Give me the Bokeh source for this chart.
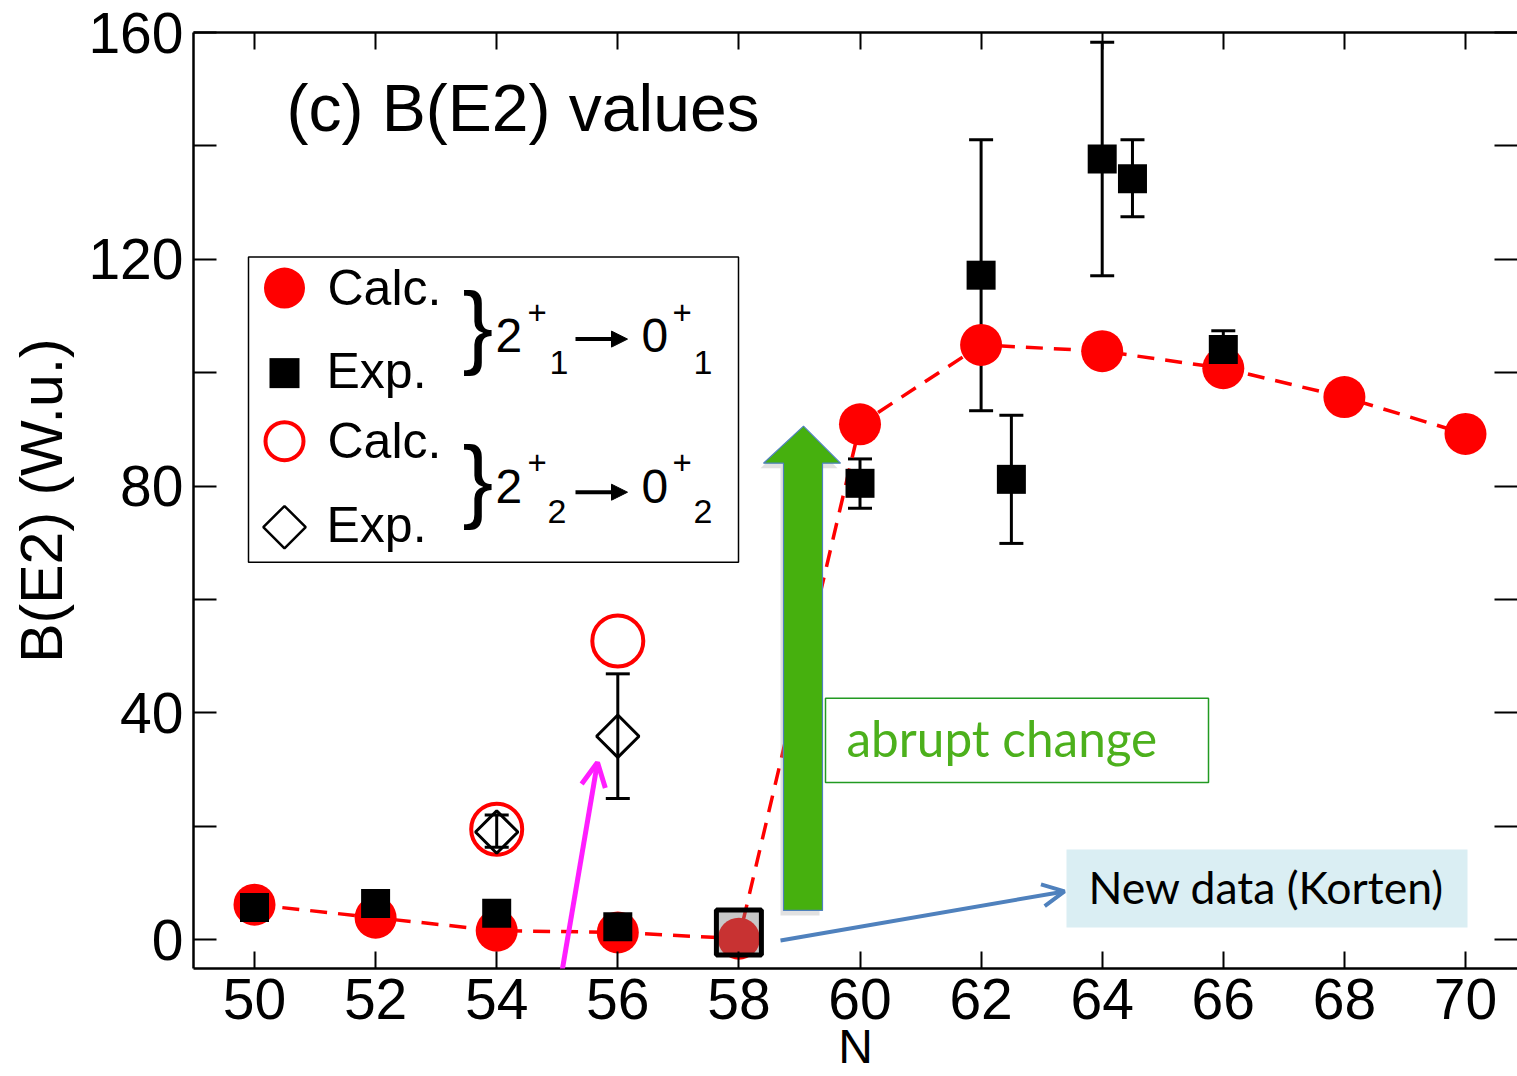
from math import pi
from bokeh.plotting import figure
from bokeh.models import (LinearAxis, FixedTicker, Range1d, Label, BoxAnnotation,
                          Arrow, OpenHead, NormalHead, Whisker, TeeHead, ColumnDataSource)
from bokeh.embed import file_html
from bokeh.resources import INLINE

# ---------------- data ----------------
X_TICKS = [50, 52, 54, 56, 58, 60, 62, 64, 66, 68, 70]
Y_TICKS = [0, 40, 80, 120, 160]
Y_MINOR = [20, 60, 100, 140]

# 2+_1 -> 0+_1  calculation (filled red circles, dashed line)
calc1_N = [50, 52, 54, 56, 58, 60, 62, 64, 66, 68, 70]
calc1_B = [6.2, 3.9, 1.6, 1.3, 0.2, 90.9, 104.9, 103.8, 100.8, 95.7, 89.2]

# 2+_1 -> 0+_1  experiment (filled black squares)
exp1_N = [50, 52, 54, 56, 60, 62, 62.5, 64, 64.5, 66]
exp1_B = [5.7, 6.4, 4.7, 2.3, 80.5, 117.2, 81.2, 137.7, 134.2, 104.1]
exp1_err_hi = [0, 0, 0, 0, 4.3, 23.9, 11.3, 20.6, 6.9, 3.3]
exp1_err_lo = [0, 0, 0, 0, 4.4, 23.9, 11.3, 20.6, 6.7, 3.5]

# new data point (Korten), highlighted
new_N = [58]
new_B = [1.3]

# 2+_2 -> 0+_2  calculation (open red circles) and experiment (open diamonds)
calc2_N = [54, 56]
calc2_B = [19.5, 52.7]
exp2_N = [54, 56]
exp2_B = [19.0, 35.9]
exp2_err_hi = [3.0, 11.0]
exp2_err_lo = [2.7, 11.0]

# ---------------- pixel <-> data helpers (for annotations) ----------------
def dx(px):
    return 50 + (px - 254) / 60.55

def dy(py):
    return (939.3 - py) / 5.667

FONT = "Liberation Sans"
SHIFT = {"Liberation Sans": 0.34, "Lato": 0.405}

p = figure(width=1517, height=1076,
           x_range=Range1d(dx(193), dx(1517)), y_range=Range1d(dy(968), 160),
           output_backend="svg", toolbar_location=None,
           min_border_left=193, min_border_right=0, min_border_top=32, min_border_bottom=108)
p.outline_line_color = None
p.grid.visible = False
p.background_fill_color = "white"
p.border_fill_color = "white"

def style_axis(ax, ticker, tick_in, labels=True):
    ax.ticker = ticker
    ax.major_tick_in = tick_in
    ax.major_tick_out = 0
    ax.minor_tick_in = tick_in
    ax.minor_tick_out = 0
    ax.major_tick_line_width = 2
    ax.minor_tick_line_width = 2
    ax.major_tick_line_color = "black"
    ax.minor_tick_line_color = "black"
    ax.axis_line_width = 2.5
    ax.axis_line_color = "black"
    if labels:
        ax.major_label_text_font = FONT
        ax.major_label_text_font_size = "57px"
        ax.major_label_text_color = "black"
    else:
        ax.major_label_text_font_size = "1px"
        ax.major_label_text_color = None
        ax.major_label_standoff = 0

xa = p.xaxis[0]
style_axis(xa, FixedTicker(ticks=X_TICKS), 17)
xa.major_label_standoff = 10
xa.axis_label = "N"
xa.axis_label_text_font = FONT
xa.axis_label_text_font_size = "48px"
xa.axis_label_text_font_style = "normal"
xa.axis_label_text_color = "black"
xa.axis_label_standoff = -2

ya = p.yaxis[0]
style_axis(ya, FixedTicker(ticks=Y_TICKS, minor_ticks=Y_MINOR), 23)
ya.major_label_standoff = 10
ya.axis_label = "B(E2) (W.u.)"
ya.axis_label_text_font = FONT
ya.axis_label_text_font_size = "59px"
ya.axis_label_text_font_style = "normal"
ya.axis_label_text_color = "black"
ya.axis_label_standoff = 10

top = LinearAxis()
style_axis(top, FixedTicker(ticks=X_TICKS), 17, labels=False)
p.add_layout(top, "above")
right = LinearAxis()
style_axis(right, FixedTicker(ticks=Y_TICKS, minor_ticks=Y_MINOR), 23, labels=False)
right.axis_line_color = None
p.add_layout(right, "right")

# ---------------- data marks ----------------
p.line(calc1_N, calc1_B, line_color="#FF0000", line_width=3.5, line_dash="17 11")
p.scatter(calc1_N, calc1_B, marker="circle", size=42, fill_color="#FF0000", line_color=None)

# open circles (calc 2+_2)
p.scatter(calc2_N, calc2_B, marker="circle", size=51, fill_color=None,
          line_color="#FF0000", line_width=4)

# error bars exp 2+_1
keep = [i for i in range(len(exp1_N)) if exp1_err_hi[i] > 0 or exp1_err_lo[i] > 0]
src1 = ColumnDataSource(dict(x=[exp1_N[i] for i in keep],
                             upper=[exp1_B[i] + exp1_err_hi[i] for i in keep],
                             lower=[exp1_B[i] - exp1_err_lo[i] for i in keep]))
p.add_layout(Whisker(base="x", upper="upper", lower="lower", source=src1,
                     line_width=3, line_color="black",
                     upper_head=TeeHead(size=24, line_width=3, line_color="black"),
                     lower_head=TeeHead(size=24, line_width=3, line_color="black")))
p.scatter(exp1_N, exp1_B, marker="square", size=29, fill_color="black", line_color=None)

# error bars exp 2+_2
src2 = ColumnDataSource(dict(x=exp2_N, upper=[v + h for v, h in zip(exp2_B, exp2_err_hi)],
                             lower=[v - l for v, l in zip(exp2_B, exp2_err_lo)]))
p.add_layout(Whisker(base="x", upper="upper", lower="lower", source=src2,
                     line_width=3, line_color="black",
                     upper_head=TeeHead(size=24, line_width=3, line_color="black"),
                     lower_head=TeeHead(size=24, line_width=3, line_color="black")))
p.scatter(exp2_N, exp2_B, marker="square", angle=pi / 4, size=30, fill_color=None,
          line_color="black", line_width=3)

# highlighted new data point
p.scatter(new_N, new_B, marker="square", size=45, fill_color="#7A7A7A", fill_alpha=0.41,
          line_color="black", line_width=5)

# ---------------- annotations ----------------
def lab(px, py, s, size, font=FONT, color="black"):
    p.add_layout(Label(x=dx(px), y=dy(py - SHIFT[font] * size), text=s, text_font=font,
                       text_font_size=f"{size}px", text_color=color,
                       text_baseline="alphabetic"))

# green arrow "abrupt change" (with soft shadow)
arrow_px = [(783, 910), (783, 463), (763, 463), (803, 426), (840, 463), (822, 463), (822, 910)]
p.patch([dx(x - 3) for x, y in arrow_px], [dy(y + 5) for x, y in arrow_px],
        fill_color="#9A9A9A", fill_alpha=0.3, line_color=None)
p.patch([dx(x) for x, y in arrow_px], [dy(y) for x, y in arrow_px],
        fill_color="#46B00E", line_color="#4F81BD", line_width=1.2)

p.add_layout(BoxAnnotation(left=dx(825), right=dx(1208), top=dy(698), bottom=dy(782),
                           fill_color=None, line_color="#229A22", line_alpha=1.0, line_width=1.5))
lab(846, 758, "abrupt change", 49.5, font="Lato", color="#4CB01C")

# new data box + blue arrow
p.add_layout(BoxAnnotation(left=dx(1066), right=dx(1467), top=dy(849), bottom=dy(927),
                           fill_color="#DAEEF3", fill_alpha=1.0, line_color=None))
lab(1088, 904, "New data (Korten)", 44.5, font="Lato")
p.add_layout(Arrow(end=OpenHead(size=22, line_color="#4F81BD", line_width=4),
                   x_start=dx(780), y_start=dy(940), x_end=dx(1064), y_end=dy(891),
                   line_color="#4F81BD", line_width=4))

# magenta arrow
p.add_layout(Arrow(end=OpenHead(size=24, line_color="#FF1EFF", line_width=5),
                   x_start=dx(543), y_start=dy(1080), x_end=dx(597), y_end=dy(762),
                   line_color="#FF1EFF", line_width=5))

# title
lab(286, 130, "(c) B(E2) values", 66)

# ---------------- legend ----------------
p.add_layout(BoxAnnotation(left=dx(248), right=dx(738), top=dy(257), bottom=dy(562),
                           fill_color=None, line_color="black", line_alpha=1.0, line_width=1.5))
p.scatter([dx(284)], [dy(288)], marker="circle", size=41, fill_color="#FF0000", line_color=None)
p.scatter([dx(284)], [dy(373)], marker="square", size=30, fill_color="black", line_color=None)
p.scatter([dx(284)], [dy(441)], marker="circle", size=38, fill_color=None, line_color="#FF0000",
          line_width=4)
p.scatter([dx(284)], [dy(527)], marker="square", angle=pi / 4, size=30, fill_color=None,
          line_color="black", line_width=2.5)

lab(327, 305, "Calc.", 50)
lab(326, 388, "Exp.", 50)
lab(327, 458, "Calc.", 50)
lab(326, 542, "Exp.", 50)
lab(462, 356, "}", 92)
lab(462, 510, "}", 92)
for base, sub, supb, subb, arr_y in [(352, "1", 323.6, 374, 339), (503, "2", 473.6, 523, 492)]:
    lab(495, base, "2", 48)
    lab(527, supb, "+", 33)
    lab(549 if sub == "1" else 547, subb, sub, 34)
    p.add_layout(Arrow(end=NormalHead(size=16, fill_color="black", line_color="black", line_width=1),
                       x_start=dx(575), y_start=dy(arr_y), x_end=dx(627), y_end=dy(arr_y),
                       line_color="black", line_width=4))
    lab(641, base, "0", 48)
    lab(672, supb, "+", 33)
    lab(693, subb, sub, 34)

open("out.html", "w").write(file_html(p, INLINE))
